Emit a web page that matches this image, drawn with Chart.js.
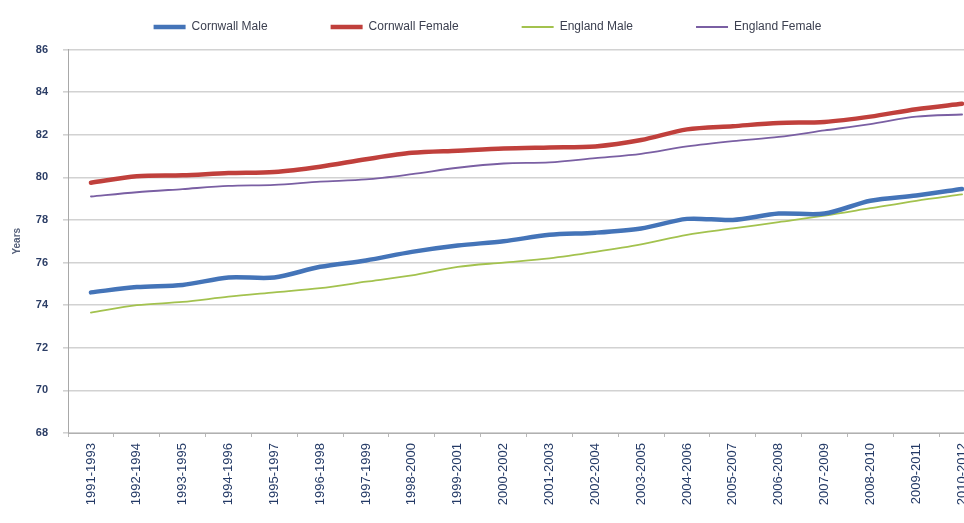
<!DOCTYPE html>
<html>
<head>
<meta charset="utf-8">
<title>Life expectancy at birth: Cornwall and England</title>
<script src="https://cdn.jsdelivr.net/npm/chart.js@4/dist/chart.umd.min.js"></script>
<style>
  html, body { margin: 0; padding: 0; background: #ffffff; overflow: hidden; }
  #wrap { width: 964px; height: 523px; overflow: hidden; position: relative; }
  canvas { display: block; }
</style>
</head>
<body>
<div id="wrap"><canvas id="chart" width="985" height="523"></canvas></div>
<script>
// Three-year rolling periods
const periods = [
  '1991-1993', '1992-1994', '1993-1995', '1994-1996', '1995-1997',
  '1996-1998', '1997-1999', '1998-2000', '1999-2001', '2000-2002',
  '2001-2003', '2002-2004', '2003-2005', '2004-2006', '2005-2007',
  '2006-2008', '2007-2009', '2008-2010', '2009-2011', '2010-2012'
];

// Life expectancy at birth (years)
const cornwallMale = [74.6, 74.85, 74.95, 75.3, 75.3, 75.8, 76.1, 76.5, 76.8, 77.0,
                      77.3, 77.4, 77.6, 78.05, 78.0, 78.3, 78.3, 78.9, 79.15, 79.45];
const cornwallFemale = [79.75, 80.05, 80.1, 80.2, 80.25, 80.5, 80.85, 81.15, 81.25, 81.35,
                        81.4, 81.45, 81.75, 82.25, 82.4, 82.55, 82.6, 82.85, 83.2, 83.45];
const englandMale = [73.65, 74.0, 74.15, 74.4, 74.6, 74.8, 75.1, 75.4, 75.8, 76.0,
                     76.2, 76.5, 76.85, 77.3, 77.6, 77.9, 78.2, 78.55, 78.9, 79.2];
const englandFemale = [79.1, 79.3, 79.45, 79.6, 79.65, 79.8, 79.9, 80.15, 80.45, 80.65,
                       80.7, 80.9, 81.1, 81.45, 81.7, 81.9, 82.2, 82.5, 82.85, 82.95];

const yMin = 68, yMax = 86, yStep = 2;

// Keep wide spacing between legend entries without a tall legend box
const legendLayout = {
  id: 'legendLayout',
  afterInit(chart) {
    const lg = chart.legend;
    const fit = lg.fit;
    lg.fit = function () { fit.call(this); this.height = 49.5; };
    const draw = lg.draw;
    lg.draw = function () {
      const c = this.ctx;
      const bottom = this.bottom;
      this.bottom = this.top + 140;
      c.save();
      c.translate(-5, -42);
      draw.call(this);
      c.restore();
      this.bottom = bottom;
    };
  }
};

new Chart(document.getElementById('chart'), {
  type: 'line',
  data: {
    labels: periods,
    datasets: [
      { label: 'Cornwall Male', data: cornwallMale, borderColor: '#4474b8', backgroundColor: '#4474b8', borderWidth: 4.5 },
      { label: 'Cornwall Female', data: cornwallFemale, borderColor: '#c0403c', backgroundColor: '#c0403c', borderWidth: 4.5 },
      { label: 'England Male', data: englandMale, borderColor: '#a3c24e', backgroundColor: '#a3c24e', borderWidth: 1.8 },
      { label: 'England Female', data: englandFemale, borderColor: '#7a5fa3', backgroundColor: '#7a5fa3', borderWidth: 1.8 }
    ]
  },
  options: {
    responsive: false,
    animation: false,
    devicePixelRatio: 1,
    layout: { padding: 0 },
    elements: {
      point: { radius: 0, hoverRadius: 0 },
      line: { tension: 0.3, borderCapStyle: 'round', borderJoinStyle: 'round' }
    },
    plugins: {
      tooltip: { enabled: false },
      legend: {
        position: 'top',
        labels: {
          usePointStyle: true,
          pointStyle: 'line',
          pointStyleWidth: 32,
          padding: 63,
          color: '#3c4050',
          font: { family: 'Liberation Sans, Arial, sans-serif', size: 12 }
        }
      }
    },
    scales: {
      x: {
        offset: true,
        grid: { display: true, offset: true, drawOnChartArea: false, drawTicks: true, tickLength: 4, color: '#b8b8b8' },
        border: { display: true, color: '#b0b0b0', width: 1 },
        ticks: {
          autoSkip: false,
          maxRotation: 90,
          minRotation: 90,
          padding: 6,
          color: '#243a66',
          font: { family: 'Liberation Sans, Arial, sans-serif', size: 13 }
        },
        afterFit(scale) { scale.height = 90; }
      },
      y: {
        min: yMin,
        max: yMax,
        ticks: {
          stepSize: yStep,
          padding: 15,
          color: '#2c3e66',
          font: { family: 'Liberation Sans, Arial, sans-serif', size: 11, weight: 'bold' }
        },
        grid: { color: '#d2d2d2', lineWidth: 1.6, tickLength: 5 },
        border: { display: true, color: '#a8a8a8', width: 1 },
        title: {
          display: true,
          text: 'Years',
          color: '#55607a',
          padding: { top: 11, bottom: 0 },
          font: { family: 'Liberation Sans, Arial, sans-serif', size: 10, weight: 'bold' }
        },
        afterFit(scale) { scale.width = 68; }
      }
    }
  },
  plugins: [legendLayout]
});
</script>
</body>
</html>
